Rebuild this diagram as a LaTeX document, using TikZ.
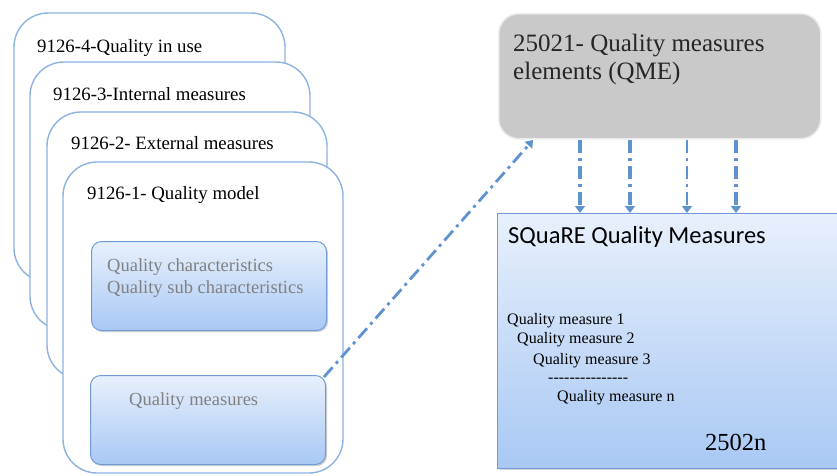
\documentclass[tikz,border=0pt]{standalone}
\usepackage{fontspec}
\setmainfont{Liberation Serif}
\newfontfamily\titlefont{Carlito}
\usetikzlibrary{arrows.meta}
\definecolor{cardline}{RGB}{141,179,226}
\definecolor{boxline}{RGB}{112,155,214}
\definecolor{boxtop}{RGB}{232,240,252}
\definecolor{boxbot}{RGB}{168,200,244}
\definecolor{qmefill}{RGB}{201,201,201}
\definecolor{flow}{RGB}{94,147,207}
\definecolor{softtext}{RGB}{128,128,128}
\tikzset{
  card/.style={draw=cardline, line width=1.4pt, fill=white, rounded corners=34pt},
  innerbox/.style={draw=boxline, line width=1pt, rounded corners=10pt,
    top color=boxtop, bottom color=boxbot},
  shade/.style={fill=black!18, rounded corners=10pt},
  cardtext/.style={anchor=base west, inner sep=0pt, font=\fontsize{18.8}{22}\selectfont},
  softlabel/.style={anchor=base west, inner sep=0pt, text=softtext, font=\fontsize{18.5}{22}\selectfont},
  measure/.style={anchor=base west, inner sep=0pt, font=\fontsize{16}{19}\selectfont},
  flowarrow/.style={draw=flow, line width=3.6pt,
    dash pattern=on 13pt off 5pt on 3pt off 5pt,
    -{Triangle[width=10pt,length=7pt]}},
}
\begin{document}
\begin{tikzpicture}[x=1pt,y=-1pt]
\useasboundingbox (0,0) rectangle (837,475);

% stacked ISO/IEC 9126 cards, back to front
\draw[card] (14,13) rectangle (285,282);
\node[cardtext] (c4) at (37,52) {9126-4-Quality in use};
\draw[card] (30,62) rectangle (310,330);
\node[cardtext] (c3) at (53,100) {9126-3-Internal measures};
\draw[card] (47,112) rectangle (327,379);
\node[cardtext] (c2) at (71,149) {9126-2- External measures};
\draw[card] (63,162) rectangle (343,473);
\node[cardtext] (c1) at (87,199) {9126-1- Quality model};

% inner boxes of the quality model card
\fill[shade] (93,243) rectangle (328,332);
\node[innerbox, minimum width=235pt, minimum height=89pt, anchor=north west] (chars) at (91,241) {};
\node[softlabel] (ch1) at (107,271) {Quality characteristics};
\node[softlabel] (ch2) at (107,293) {Quality sub characteristics};

\fill[shade] (92,377) rectangle (327,466);
\node[innerbox, minimum width=235pt, minimum height=89pt, anchor=north west] (qm) at (90,375) {};
\node[softlabel] (qmt) at (129,405) {Quality measures};

% quality measure elements
\node[draw=black!8, line width=1.5pt, fill=qmefill, rounded corners=20pt,
  minimum width=322pt, minimum height=125pt, anchor=north west] (qme) at (498,13) {};
\node[anchor=base west, inner sep=0pt, text=black!85, font=\fontsize{25}{28}\selectfont] (qme1) at (513,51) {25021- Quality measures};
\node[anchor=base west, inner sep=0pt, text=black!85, font=\fontsize{25}{28}\selectfont] (qme2) at (513,79) {elements (QME)};

% SQuaRE quality measures
\fill[black!15] (499,215) rectangle (840,470);
\node[draw=boxline, line width=1.2pt, top color=boxtop, bottom color=boxbot,
  minimum width=343pt, minimum height=255pt, anchor=north west] (sq) at (497,213) {};
\node[anchor=base west, inner sep=0pt, font=\titlefont\fontsize{24.5}{28}\selectfont] (sqt) at (508,243) {SQuaRE Quality Measures};
\node[measure] (m1) at (507,324) {Quality measure 1};
\node[measure] (m2) at (517,343) {Quality measure 2};
\node[measure] (m3) at (533,364) {Quality measure 3};
\node[measure] (md) at (548,382) {-{}-{}-{}-{}-{}-{}-{}-{}-{}-{}-{}-{}-{}-{}-};
\node[measure] (mn) at (557,401) {Quality measure n};
\node[anchor=base west, inner sep=0pt, font=\fontsize{24.5}{28}\selectfont] (num) at (705,450) {2502n};

% connectors
\coordinate (d1s) at (580,140); \coordinate (d1e) at (580,213);
\coordinate (d2s) at (630,140); \coordinate (d2e) at (630,213);
\coordinate (d3s) at (687,140); \coordinate (d3e) at (687,213);
\coordinate (d4s) at (736,140); \coordinate (d4e) at (736,213);
\draw[flowarrow] (d1s) -- (d1e);
\draw[flowarrow] (d2s) -- (d2e);
\draw[flowarrow, line width=2.6pt] (d3s) -- (d3e);
\draw[flowarrow] (d4s) -- (d4e);
\coordinate (qmtip) at (533,140);
\draw[flowarrow, line width=2.8pt] (qm.north east) ++(-2,2) -- (qmtip);
\end{tikzpicture}
\end{document}
